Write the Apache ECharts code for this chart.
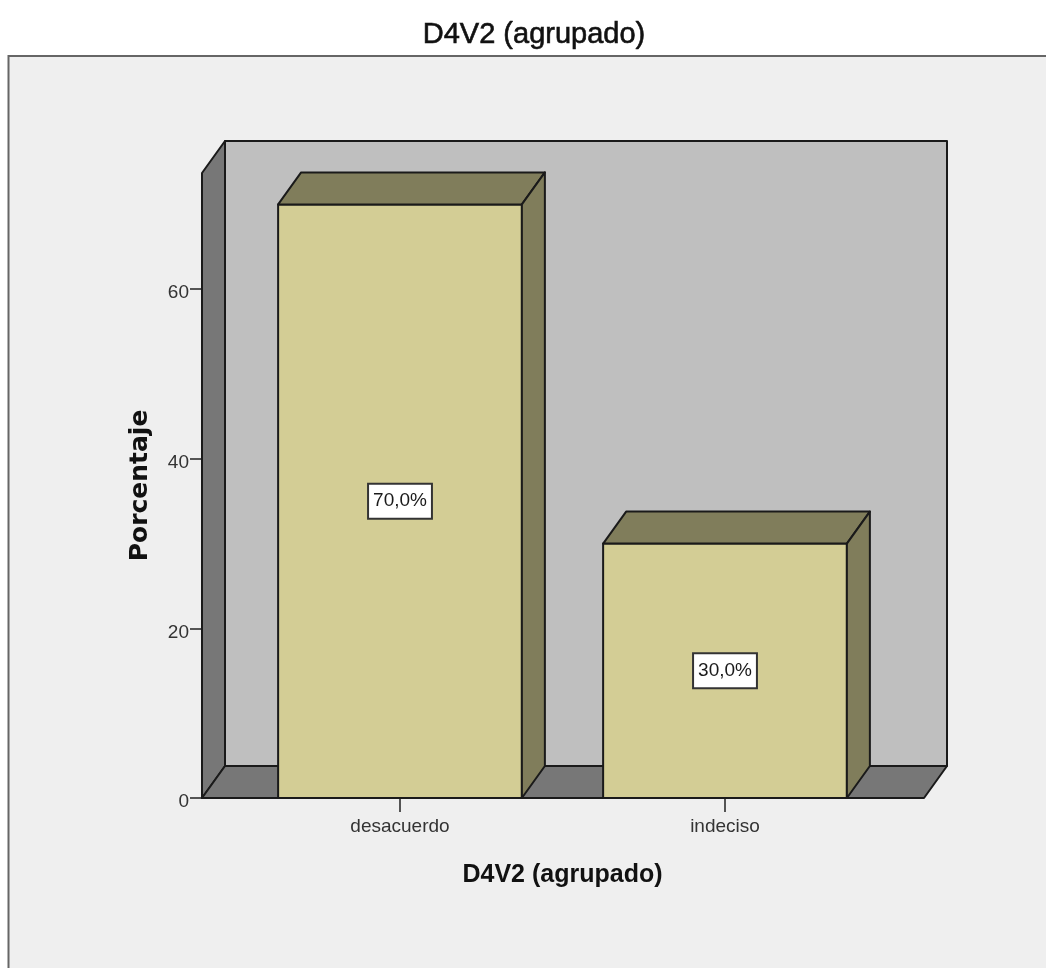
<!DOCTYPE html>
<html><head><meta charset="utf-8">
<style>html,body{margin:0;padding:0;background:#fff}#c{width:1046px;height:968px}</style>
<script src="https://cdn.jsdelivr.net/npm/echarts@6/dist/echarts.min.js"></script>
</head><body><div id="c"></div>
<script>
const categories = ['desacuerdo', 'indeciso'];
const percentages = [70, 30];
const yTicks = [0, 20, 40, 60];
const chartTitle = 'D4V2 (agrupado)';
const xTitle = 'D4V2 (agrupado)';
const yTitle = 'Porcentaje';

const DX = 23, DY = -32, SIDE_L = 35.5, SIDE_R = 36.5;
const INK = '#1a1a1a', SANS = '"Liberation Sans",Arial,sans-serif';
const chart = echarts.init(document.getElementById('c'), null, {renderer: 'canvas'});

function poly(points, fill, z) {
  return {type: 'polygon', z2: z || 0, shape: {points},
    style: {fill, stroke: INK, lineWidth: 2, lineJoin: 'round'}};
}
function renderWalls(params, api) {
  const cs = params.coordSys;
  const l = cs.x - SIDE_L, r = cs.x + cs.width + SIDE_R, t = cs.y, b = cs.y + cs.height;
  return {type: 'group', children: [
    poly([[l+DX,t+DY],[r+DX,t+DY],[r+DX,b+DY],[l+DX,b+DY]], '#bfbfbf'),
    poly([[l,t],[l+DX,t+DY],[l+DX,b+DY],[l,b]], '#777777'),
    poly([[l,b],[l+DX,b+DY],[r+DX,b+DY],[r,b]], '#777777')
  ]};
}
function renderBar(params, api) {
  const v = api.value(1), top = api.coord([api.value(0), v]), base = api.coord([api.value(0), 0]);
  const w = api.size([1, 0])[0] * 0.75;
  const x0 = top[0] - w / 2, x1 = top[0] + w / 2, y0 = top[1], y1 = base[1];
  const mid = api.coord([api.value(0), v / 2]);
  return {type: 'group', children: [
    poly([[x0,y1],[x1,y1],[x1,y0],[x0,y0]], '#d3cd95', 1),
    poly([[x0,y0],[x0+DX,y0+DY],[x1+DX,y0+DY],[x1,y0]], '#807d5b', 1),
    poly([[x1,y0],[x1+DX,y0+DY],[x1+DX,y1+DY],[x1,y1]], '#807d5b', 1),
    {type: 'text', z2: 3, x: mid[0], y: mid[1], style: {
      text: v.toFixed(1).replace('.', ',') + '%', align: 'center', verticalAlign: 'middle',
      font: '19px ' + SANS, fill: '#1a1a1a', backgroundColor: '#fff',
      borderColor: '#333', borderWidth: 2, padding: [10, 4, 4, 4]
    }}
  ]};
}
chart.setOption({
  animation: false,
  backgroundColor: '#fff',
  graphic: [{type: 'rect', z: -10, silent: true,
    shape: {x: 8.5, y: 56, width: 1100, height: 1000},
    style: {fill: '#efefef', stroke: '#666', lineWidth: 2}}],
  title: {text: chartTitle, left: 529, top: 15, textAlign: 'center',
    textStyle: {fontFamily: SANS, fontSize: 29, fontWeight: 'normal', color: '#111',
      textBorderColor: '#111', textBorderWidth: 0.6}},
  grid: {left: 237.5, top: 173, width: 650, height: 625},
  xAxis: {type: 'category', data: categories,
    name: xTitle, nameLocation: 'middle', nameGap: 65,
    nameTextStyle: {fontFamily: SANS, fontSize: 25, fontWeight: 'bold', color: '#111'},
    axisLine: {show: false},
    axisTick: {show: true, alignWithLabel: true, length: 14, lineStyle: {color: '#222', width: 1.5}},
    axisLabel: {margin: 19, fontFamily: SANS, fontSize: 19, color: '#333'}},
  yAxis: {type: 'value', min: 0, max: 73.7, offset: SIDE_L,
    name: yTitle, nameLocation: 'middle', nameGap: 49, nameRotate: 90,
    nameTextStyle: {fontFamily: '"DejaVu Sans",sans-serif', fontSize: 25, fontWeight: 'bold', color: '#111'},
    axisLine: {show: false}, splitLine: {show: false},
    axisTick: {show: true, length: 12, customValues: yTicks, lineStyle: {color: '#222', width: 1.5}},
    axisLabel: {margin: 13, verticalAlign: 'top', lineHeight: 8, customValues: yTicks, fontFamily: SANS, fontSize: 19, color: '#333'}},
  series: [
    {type: 'custom', name: 'walls', renderItem: renderWalls, clip: false, z: 1, silent: true,
      data: [[0, 0]], encode: {x: 0, y: 1}},
    {type: 'custom', name: 'Porcentaje', renderItem: renderBar, clip: false, z: 2,
      data: categories.map((c, i) => [i, percentages[i]]), encode: {x: 0, y: 1}}
  ]
});
</script></body></html>
